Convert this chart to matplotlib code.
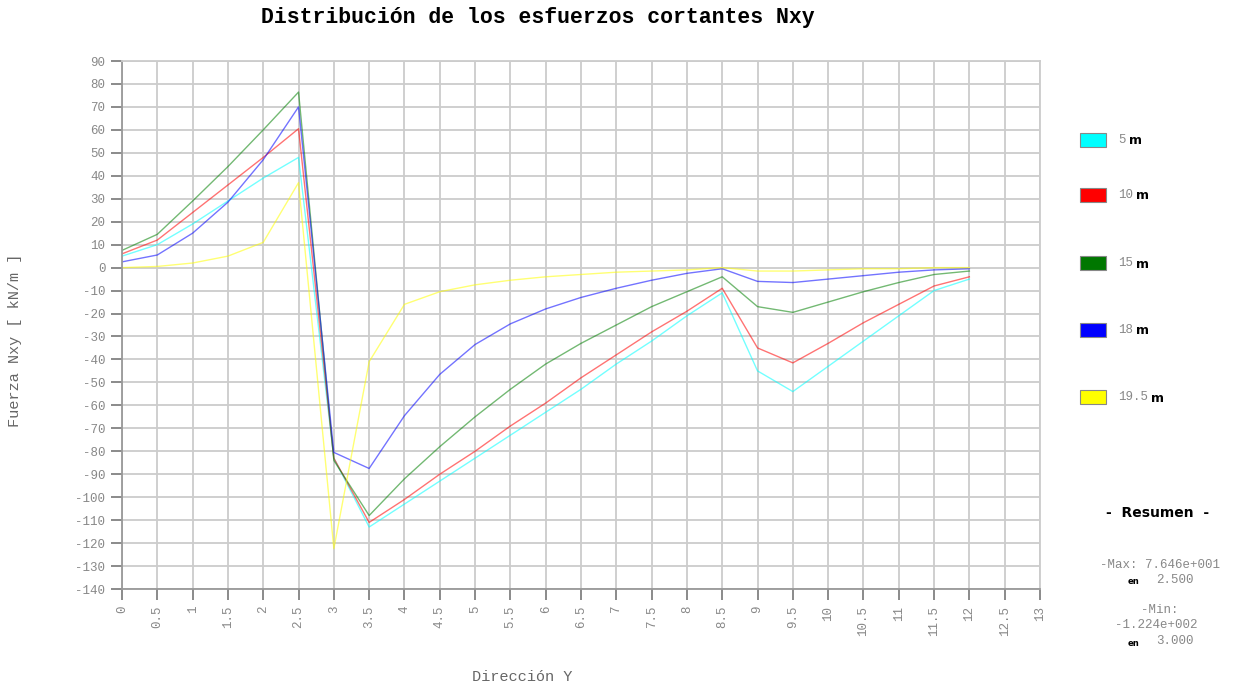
import matplotlib
matplotlib.use('Agg')
import matplotlib.pyplot as plt
import numpy as np
from matplotlib.patches import Rectangle

# datos
y_pos = [0, 0.5, 1, 1.5, 2, 2.5, 3, 3.5, 4, 4.5, 5, 5.5, 6, 6.5, 7, 7.5, 8, 8.5, 9, 9.5, 10, 10.5, 11, 11.5, 12]
n_5 = [5, 10, 19, 29, 39, 48, -83, -113, -103, -93, -83, -73, -63, -53, -42, -32, -21, -11, -45, -54, -43, -32, -21, -10, -5]
n_10 = [6, 12, 24, 36, 48, 60.5, -83, -111, -101, -90, -80, -69, -59, -48, -38, -28, -19, -9, -35, -41.5, -33, -24, -16, -8, -4]
n_15 = [7.5, 14.5, 29, 44, 60, 76.46, -84, -108, -92, -78, -65, -53, -42, -33, -25, -17, -10.5, -4, -17, -19.5, -15, -10.5, -6.5, -3, -1.5]
n_18 = [2.5, 5.5, 15, 28.5, 47, 70, -80.5, -87.5, -64.5, -46.5, -33.5, -24.5, -18, -13, -9, -5.5, -2.5, -0.5, -6, -6.5, -5, -3.5, -2, -1, -0.5]
n_195 = [0, 0.5, 2, 5, 11, 37, -122.4, -41, -16, -10.5, -7.5, -5.5, -4, -3, -2, -1.5, -1, 0, -1.5, -1.5, -1, -0.5, -0.5, 0, 0]
series = [n_5, n_10, n_15, n_18, n_195]
series_lbl = ['5', '10', '15', '18', '19.5']
line_col = ['#00ffff', '#ff0000', '#008000', '#0000ff', '#ffff00']
patch_col = ['#00ffff', '#ff0000', '#007700', '#0000ff', '#ffff00']

x_ticks = np.arange(0, 13.01, 0.5)
y_ticks = np.arange(-140, 91, 10)

mono = 'Liberation Mono'

fig = plt.figure(figsize=(12.34, 6.84), dpi=100)
ax = fig.add_axes([122/1234, 95/684, 918/1234, 528/684])

for s, c in zip(series, line_col):
    ax.plot(y_pos, s, color=c, lw=1.0, alpha=0.55)

ax.set_xlim(0, 13)
ax.set_ylim(-140, 90)
ax.set_xticks(x_ticks)
ax.set_yticks(y_ticks)
ax.set_xticklabels(['%g' % v for v in x_ticks], rotation=90, family=mono, color='#888888', fontsize=9)
ax.set_yticklabels(['%d' % v for v in y_ticks], family=mono, color='#888888', fontsize=9)
ax.tick_params(axis='both', length=8, width=1.2, color='#777777', pad=4)
ax.grid(True, color='#cccccc', lw=1.3)
ax.set_axisbelow(True)
for sp in ax.spines.values():
    sp.set_color('#cccccc')
    sp.set_linewidth(1.3)
ax.spines['left'].set_color('#999999')
ax.spines['bottom'].set_color('#999999')

fig.text(538/1234, 1 - 17/684, 'Distribución de los esfuerzos cortantes Nxy', ha='center', va='center',
         family=mono, fontweight='bold', fontsize=15.5)
fig.text(15/1234, 1 - 340/684, 'Fuerza Nxy [ kN/m ]', rotation=90, ha='center', va='center',
         family=mono, color='#666666', fontsize=11)
fig.text(522/1234, 1 - 677/684, 'Dirección Y', ha='center', va='center', family=mono, color='#666666', fontsize=11)

# leyenda
leg_y = [140, 195, 263, 330, 397]
for lbl, c, yy in zip(series_lbl, patch_col, leg_y):
    fig.patches.append(Rectangle((1080/1234, 1 - (yy + 7)/684), 26/1234, 14/684, transform=fig.transFigure,
                                 facecolor=c, edgecolor='#888888', lw=0.8))
    t = fig.text(1118/1234, 1 - yy/684, lbl, ha='left', va='center', family=mono, color='#888888', fontsize=9)
    fig.canvas.draw()
    bb = t.get_window_extent()
    fig.text((bb.x1 + 3)/1234, 1 - (yy + 1)/684, 'm', ha='left', va='center', fontweight='bold', fontsize=9)

# resumen
fig.text(1158/1234, 1 - 513/684, '-  Resumen  -', ha='center', va='center', fontweight='bold', fontsize=10)
fig.text(1160/1234, 1 - 565/684, '-Max: 7.646e+001', ha='center', va='center', family=mono, color='#888888', fontsize=9)
fig.text(1133/1234, 1 - 581/684, 'en', ha='center', va='center', fontweight='bold', fontsize=6)
fig.text(1175/1234, 1 - 580/684, '2.500', ha='center', va='center', family=mono, color='#888888', fontsize=9)
fig.text(1160/1234, 1 - 610/684, '-Min:', ha='center', va='center', family=mono, color='#888888', fontsize=9)
fig.text(1156/1234, 1 - 625/684, '-1.224e+002', ha='center', va='center', family=mono, color='#888888', fontsize=9)
fig.text(1133/1234, 1 - 643/684, 'en', ha='center', va='center', fontweight='bold', fontsize=6)
fig.text(1175/1234, 1 - 641/684, '3.000', ha='center', va='center', family=mono, color='#888888', fontsize=9)

fig.savefig('out.png', dpi=100)
